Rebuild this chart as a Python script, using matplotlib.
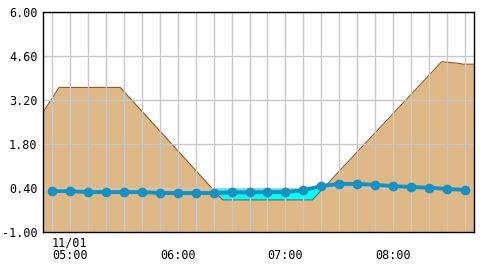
import matplotlib
matplotlib.use("Agg")
import matplotlib.pyplot as plt
import numpy as np

# water level readings every 10 minutes
level_times = ["04:50", "05:00", "05:10", "05:20", "05:30", "05:40", "05:50", "06:00",
               "06:10", "06:20", "06:30", "06:40", "06:50", "07:00", "07:10", "07:20",
               "07:30", "07:40", "07:50", "08:00", "08:10", "08:20", "08:30", "08:40"]
level_vals = [0.30, 0.30, 0.27, 0.27, 0.27, 0.27, 0.24, 0.24,
              0.24, 0.24, 0.26, 0.26, 0.27, 0.27, 0.33, 0.46,
              0.53, 0.53, 0.50, 0.46, 0.43, 0.41, 0.37, 0.34]

# tan background profile
ground_times = ["04:45", "04:54", "05:28", "06:25", "07:15", "08:27", "08:30", "08:36", "08:39", "08:45"]
ground_vals = [2.81, 3.60, 3.60, 0.02, 0.02, 4.42, 4.40, 4.37, 4.34, 4.34]
pool_level = 0.38

yticks = [-1.00, 0.40, 1.80, 3.20, 4.60, 6.00]
hour_ticks = ["05:00", "06:00", "07:00", "08:00"]
hour_labels = ["11/01\n05:00", "\n06:00", "\n07:00", "\n08:00"]


def to_min(s):
    h, m = s.split(":")
    return (int(h) - 5) * 60 + int(m)


lt = np.array([to_min(s) for s in level_times])
gt_raw = np.array([to_min(s) for s in ground_times])
gv_raw = np.array(ground_vals)
# dense grid for the fills
gt = np.linspace(gt_raw[0], gt_raw[-1], 2000)
gv = np.interp(gt, gt_raw, gv_raw)

plt.rcParams['font.family'] = ['DejaVu Sans Mono']

fig = plt.figure(figsize=(4.8, 2.65), dpi=100)
ax = fig.add_axes([43 / 480, 1 - 232 / 265, 431 / 480, 220 / 265])

ax.fill_between(gt, -1, gv, color="#DEB887", lw=0, zorder=1)
ax.plot(gt_raw, gv_raw, color="#8B5A2B", lw=0.8, zorder=1.5)
ax.fill_between(gt, gv, pool_level, where=gv < pool_level, color="#00FFFF", lw=0, zorder=1.2)
ax.plot(lt, level_vals, color="#1890C0", lw=2.8, marker="o", ms=6, zorder=3)

ax.set_xlim(-15, 225)
ax.set_ylim(-1, 6)
ax.set_yticks(yticks)
ax.set_yticklabels(["%.2f" % v for v in yticks])
ax.set_xticks([to_min(s) for s in hour_ticks])
ax.set_xticklabels(hour_labels, linespacing=0.95)
ax.set_xticks(np.arange(-10, 225, 10), minor=True)
ax.grid(True, which="both", axis="x", color="#C8C8C8", lw=1)
ax.grid(True, which="major", axis="y", color="#C8C8C8", lw=1)
ax.tick_params(which="both", length=0, labelsize=8.5, colors="black")
ax.tick_params(axis="y", pad=4)
ax.tick_params(axis="x", pad=3)
for sp in ax.spines.values():
    sp.set_color("black")
    sp.set_linewidth(1)

fig.savefig("out.png", dpi=100)
